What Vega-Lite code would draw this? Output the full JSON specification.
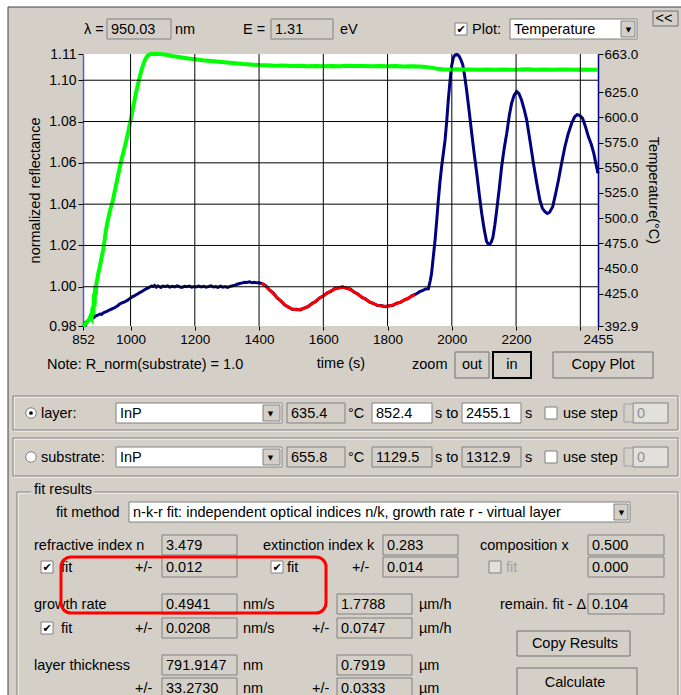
{
  "$schema": "https://vega.github.io/schema/vega-lite/v6.json",
  "width": 515,
  "height": 272,
  "autosize": {"type": "none"},
  "padding": {"left": 83, "top": 54, "right": 83, "bottom": 369},
  "background": "#d4d0c8",
  "view": {"fill": "white", "stroke": null},
  "config": {
    "axis": {"labelFont": "Liberation Sans", "titleFont": "Liberation Sans"},
    "text": {"font": "Liberation Sans"}
  },
  "datasets": {
    "grid": [
      {"id":"v1000","t":1000,"r":0.981},{"id":"v1000","t":1000,"r":1.1127},
      {"id":"v1200","t":1200,"r":0.981},{"id":"v1200","t":1200,"r":1.1127},
      {"id":"v1400","t":1400,"r":0.981},{"id":"v1400","t":1400,"r":1.1127},
      {"id":"v1600","t":1600,"r":0.981},{"id":"v1600","t":1600,"r":1.1127},
      {"id":"v1800","t":1800,"r":0.981},{"id":"v1800","t":1800,"r":1.1127},
      {"id":"v2000","t":2000,"r":0.981},{"id":"v2000","t":2000,"r":1.1127},
      {"id":"v2200","t":2200,"r":0.981},{"id":"v2200","t":2200,"r":1.1127},
      {"id":"v2400","t":2400,"r":0.981},{"id":"v2400","t":2400,"r":1.1127},
      {"id":"h1.00","t":852,"r":1.0},{"id":"h1.00","t":2455,"r":1.0},
      {"id":"h1.02","t":852,"r":1.02},{"id":"h1.02","t":2455,"r":1.02},
      {"id":"h1.04","t":852,"r":1.04},{"id":"h1.04","t":2455,"r":1.04},
      {"id":"h1.06","t":852,"r":1.06},{"id":"h1.06","t":2455,"r":1.06},
      {"id":"h1.08","t":852,"r":1.08},{"id":"h1.08","t":2455,"r":1.08},
      {"id":"h1.10","t":852,"r":1.1},{"id":"h1.10","t":2455,"r":1.1}
    ],
    "blue": [
      {"t":852,"r":0.9810},{"t":855,"r":0.9812},{"t":858,"r":0.9822},{"t":861,"r":0.9818},{"t":864,"r":0.9831},{"t":868,"r":0.9836},{"t":872,"r":0.9842},{"t":876,"r":0.9845},{"t":880,"r":0.9851},{"t":885,"r":0.9849},{"t":890,"r":0.9857},{"t":895,"r":0.9861},{"t":900,"r":0.9864},{"t":905,"r":0.9868},{"t":910,"r":0.9866},{"t":915,"r":0.9873},{"t":920,"r":0.9877},{"t":925,"r":0.9880},{"t":930,"r":0.9884},{"t":935,"r":0.9888},{"t":940,"r":0.9891},{"t":945,"r":0.9895},{"t":950,"r":0.9898},{"t":955,"r":0.9903},{"t":960,"r":0.9908},{"t":965,"r":0.9915},{"t":970,"r":0.9920},{"t":975,"r":0.9923},{"t":980,"r":0.9926},{"t":985,"r":0.9930},{"t":990,"r":0.9934},{"t":995,"r":0.9940},{"t":1000,"r":0.9946},{"t":1005,"r":0.9951},{"t":1010,"r":0.9955},{"t":1015,"r":0.9959},{"t":1020,"r":0.9964},{"t":1025,"r":0.9968},{"t":1030,"r":0.9973},{"t":1035,"r":0.9977},{"t":1040,"r":0.9982},{"t":1045,"r":0.9987},{"t":1050,"r":0.9991},{"t":1055,"r":0.9995},{"t":1060,"r":0.9999},{"t":1065,"r":1.0003},{"t":1070,"r":1.0001},{"t":1075,"r":1.0006},{"t":1080,"r":0.9998},{"t":1085,"r":1.0004},{"t":1090,"r":1.0001},{"t":1095,"r":0.9997},{"t":1100,"r":1.0003},{"t":1108,"r":1.0000},{"t":1115,"r":1.0004},{"t":1122,"r":0.9998},{"t":1130,"r":1.0002},{"t":1138,"r":0.9999},{"t":1145,"r":1.0004},{"t":1152,"r":1.0000},{"t":1160,"r":0.9997},{"t":1168,"r":1.0002},{"t":1175,"r":1.0000},{"t":1183,"r":1.0003},{"t":1190,"r":0.9998},{"t":1198,"r":1.0001},{"t":1205,"r":0.9999},{"t":1212,"r":1.0003},{"t":1220,"r":0.9999},{"t":1228,"r":1.0002},{"t":1235,"r":0.9998},{"t":1243,"r":1.0001},{"t":1250,"r":1.0004},{"t":1258,"r":0.9999},{"t":1265,"r":1.0001},{"t":1272,"r":0.9997},{"t":1280,"r":1.0003},{"t":1287,"r":0.9998},{"t":1295,"r":1.0001},{"t":1302,"r":0.9997},{"t":1310,"r":1.0002},{"t":1318,"r":1.0005},{"t":1325,"r":1.0008},{"t":1332,"r":1.0012},{"t":1340,"r":1.0016},{"t":1348,"r":1.0019},{"t":1355,"r":1.0022},{"t":1362,"r":1.0021},{"t":1370,"r":1.0024},{"t":1378,"r":1.0020},{"t":1385,"r":1.0022},{"t":1392,"r":1.0019},{"t":1400,"r":1.0019},{"t":1408,"r":1.0016},
      {"t":1420,"r":1.0006},{"t":1432,"r":0.9985},{"t":1444,"r":0.9971},{"t":1456,"r":0.9946},{"t":1468,"r":0.9932},{"t":1480,"r":0.9911},{"t":1492,"r":0.9902},{"t":1504,"r":0.9890},{"t":1516,"r":0.9891},{"t":1528,"r":0.9888},{"t":1540,"r":0.9897},{"t":1552,"r":0.9903},{"t":1564,"r":0.9919},{"t":1576,"r":0.9928},{"t":1588,"r":0.9946},{"t":1600,"r":0.9955},{"t":1612,"r":0.9971},{"t":1624,"r":0.9978},{"t":1636,"r":0.9992},{"t":1648,"r":0.9994},{"t":1660,"r":1.0000},{"t":1672,"r":0.9992},{"t":1684,"r":0.9989},{"t":1696,"r":0.9974},{"t":1708,"r":0.9965},{"t":1720,"r":0.9948},{"t":1732,"r":0.9940},{"t":1744,"r":0.9925},{"t":1756,"r":0.9920},{"t":1768,"r":0.9909},{"t":1780,"r":0.9909},{"t":1792,"r":0.9903},{"t":1804,"r":0.9908},{"t":1816,"r":0.9909},{"t":1828,"r":0.9920},{"t":1840,"r":0.9924},{"t":1852,"r":0.9937},{"t":1864,"r":0.9942},{"t":1876,"r":0.9957},{"t":1888,"r":0.9964},{"t":1900,"r":0.9976},{"t":1910,"r":0.9982},{"t":1918,"r":0.9989},{"t":1927,"r":0.9990},
      {"t":1933,"r":1.0030},{"t":1937,"r":1.0065},{"t":1942,"r":1.0140},{"t":1948,"r":1.0228},{"t":1953,"r":1.0320},{"t":1958,"r":1.0420},{"t":1963,"r":1.0505},{"t":1968,"r":1.0578},{"t":1974,"r":1.0650},{"t":1979,"r":1.0711},{"t":1984,"r":1.0800},{"t":1989,"r":1.0904},{"t":1994,"r":1.0990},{"t":1999,"r":1.1066},{"t":2005,"r":1.1110},{"t":2010,"r":1.1122},{"t":2016,"r":1.1125},{"t":2022,"r":1.1118},{"t":2028,"r":1.1100},{"t":2034,"r":1.1075},{"t":2040,"r":1.1020},{"t":2046,"r":1.0953},{"t":2054,"r":1.0850},{"t":2062,"r":1.0743},{"t":2070,"r":1.0640},{"t":2078,"r":1.0545},{"t":2086,"r":1.0440},{"t":2093,"r":1.0356},{"t":2100,"r":1.0285},{"t":2108,"r":1.0220},{"t":2113,"r":1.0208},{"t":2118,"r":1.0205},{"t":2123,"r":1.0218},{"t":2128,"r":1.0240},{"t":2134,"r":1.0300},{"t":2140,"r":1.0375},{"t":2148,"r":1.0480},{"t":2155,"r":1.0581},{"t":2163,"r":1.0670},{"t":2171,"r":1.0743},{"t":2179,"r":1.0830},{"t":2186,"r":1.0888},{"t":2194,"r":1.0928},{"t":2202,"r":1.0945},{"t":2209,"r":1.0935},{"t":2217,"r":1.0904},{"t":2225,"r":1.0860},{"t":2233,"r":1.0808},{"t":2243,"r":1.0710},{"t":2254,"r":1.0598},{"t":2264,"r":1.0505},{"t":2274,"r":1.0420},{"t":2282,"r":1.0380},{"t":2290,"r":1.0363},{"t":2297,"r":1.0355},{"t":2304,"r":1.0360},{"t":2314,"r":1.0388},{"t":2323,"r":1.0450},{"t":2332,"r":1.0517},{"t":2342,"r":1.0600},{"t":2352,"r":1.0678},{"t":2362,"r":1.0740},{"t":2373,"r":1.0792},{"t":2382,"r":1.0822},{"t":2390,"r":1.0833},{"t":2398,"r":1.0830},{"t":2407,"r":1.0816},{"t":2416,"r":1.0775},{"t":2425,"r":1.0727},{"t":2434,"r":1.0690},{"t":2442,"r":1.0646},{"t":2448,"r":1.0600},{"t":2455,"r":1.0549}
    ],
    "fit": [
      {"t":1408,"r":1.0017},{"t":1420,"r":1.0003},{"t":1432,"r":0.9986},{"t":1444,"r":0.9968},{"t":1456,"r":0.9949},{"t":1468,"r":0.9930},{"t":1480,"r":0.9913},{"t":1492,"r":0.9900},{"t":1504,"r":0.9892},{"t":1516,"r":0.9889},{"t":1528,"r":0.9890},{"t":1540,"r":0.9896},{"t":1552,"r":0.9905},{"t":1564,"r":0.9917},{"t":1576,"r":0.9930},{"t":1588,"r":0.9944},{"t":1600,"r":0.9957},{"t":1612,"r":0.9969},{"t":1624,"r":0.9980},{"t":1636,"r":0.9989},{"t":1648,"r":0.9995},{"t":1660,"r":0.9997},{"t":1672,"r":0.9994},{"t":1684,"r":0.9986},{"t":1696,"r":0.9975},{"t":1708,"r":0.9963},{"t":1720,"r":0.9950},{"t":1732,"r":0.9938},{"t":1744,"r":0.9927},{"t":1756,"r":0.9918},{"t":1768,"r":0.9911},{"t":1780,"r":0.9907},{"t":1792,"r":0.9906},{"t":1804,"r":0.9907},{"t":1816,"r":0.9912},{"t":1828,"r":0.9918},{"t":1840,"r":0.9926},{"t":1852,"r":0.9935},{"t":1864,"r":0.9945},{"t":1876,"r":0.9955},{"t":1885,"r":0.9962}
    ],
    "temperature": [
      {"t":852,"T":392.9},{"t":856,"T":393.5},{"t":860,"T":395},{"t":864,"T":397},{"t":868,"T":398},{"t":872,"T":400},{"t":876,"T":403},{"t":879,"T":401},{"t":882,"T":412},{"t":884,"T":404},{"t":886,"T":425},{"t":888,"T":412},{"t":890,"T":433},{"t":892,"T":424},{"t":894,"T":436},{"t":897,"T":440},{"t":900,"T":446},{"t":905,"T":453},{"t":910,"T":461},{"t":915,"T":469},{"t":920,"T":480},{"t":925,"T":491},{"t":930,"T":499},{"t":935,"T":506},{"t":940,"T":512},{"t":946,"T":519},{"t":951,"T":527},{"t":957,"T":536},{"t":962,"T":544},{"t":967,"T":551},{"t":972,"T":558},{"t":978,"T":566},{"t":983,"T":572},{"t":988,"T":579},{"t":993,"T":586},{"t":998,"T":594},{"t":1003,"T":602},{"t":1008,"T":610},{"t":1013,"T":618},{"t":1018,"T":626},{"t":1024,"T":634},{"t":1029,"T":641},{"t":1035,"T":648},{"t":1040,"T":653},{"t":1045,"T":657},{"t":1050,"T":660},{"t":1056,"T":662},{"t":1064,"T":663},{"t":1075,"T":663.2},{"t":1090,"T":663},{"t":1105,"T":662.4},{"t":1115,"T":662},{"t":1130,"T":661},{"t":1145,"T":660.2},{"t":1160,"T":659.5},{"t":1180,"T":658.6},{"t":1200,"T":657.8},{"t":1225,"T":656.8},{"t":1250,"T":656},{"t":1275,"T":655.2},{"t":1300,"T":654.5},{"t":1325,"T":653.7},{"t":1350,"T":653},{"t":1375,"T":652.5},{"t":1400,"T":652},{"t":1425,"T":651.8},{"t":1450,"T":651.4},{"t":1475,"T":651.6},{"t":1500,"T":651.1},{"t":1525,"T":651.4},{"t":1550,"T":650.9},{"t":1575,"T":651.2},{"t":1600,"T":650.8},{"t":1625,"T":651.2},{"t":1650,"T":650.9},{"t":1675,"T":651.3},{"t":1700,"T":651},{"t":1725,"T":651.2},{"t":1750,"T":650.8},{"t":1775,"T":651.1},{"t":1800,"T":650.9},{"t":1825,"T":651},{"t":1850,"T":650.7},{"t":1875,"T":650.9},{"t":1900,"T":650.6},{"t":1920,"T":650.2},{"t":1940,"T":649.2},{"t":1955,"T":648.4},{"t":1970,"T":647.9},{"t":1990,"T":647.6},{"t":2010,"T":647.8},{"t":2035,"T":647.5},{"t":2060,"T":647.7},{"t":2085,"T":647.4},{"t":2110,"T":647.6},{"t":2135,"T":647.3},{"t":2160,"T":647.7},{"t":2185,"T":647.4},{"t":2210,"T":647.5},{"t":2235,"T":647.8},{"t":2260,"T":647.4},{"t":2285,"T":647.6},{"t":2310,"T":647.3},{"t":2335,"T":647.5},{"t":2360,"T":647.6},{"t":2385,"T":647.3},{"t":2410,"T":647.5},{"t":2435,"T":647.4},{"t":2455,"T":647.3}
    ],
    "frameWhite": [{"c1":0,"c2":1,"r1":0,"r2":32},{"c1":0,"c2":69,"r1":0,"r2":1}],
    "frameLine": [{"c1":1,"c2":69,"r1":1,"r2":32}],
    "groups": [{"c1":2,"c2":68,"r1":9,"r2":11},{"c1":2,"c2":68,"r1":12,"r2":14},{"c1":3,"c2":68,"r1":16,"r2":32}],
    "labelBg": [{"c1":4,"c2":10,"row":15}],
    "fields": [
      {"row":5,"c1":11,"c2":16,"text":"950.03","kind":"readonly"},
      {"row":5,"c1":21,"c2":26,"text":"1.31","kind":"readonly"},
      {"row":5,"c1":47,"c2":64,"text":"Temperature","kind":"editable"},
      {"row":10,"c1":12,"c2":22,"text":"InP","kind":"editable"},
      {"row":10,"c1":23,"c2":29,"text":"635.4","kind":"readonly"},
      {"row":10,"c1":32,"c2":36,"text":"852.4","kind":"editable"},
      {"row":10,"c1":40,"c2":50,"text":"2455.1","kind":"editable"},
      {"row":10,"c1":63,"c2":67,"text":"0","kind":"disabled"},
      {"row":13,"c1":12,"c2":22,"text":"InP","kind":"editable"},
      {"row":13,"c1":23,"c2":29,"text":"655.8","kind":"readonly"},
      {"row":13,"c1":32,"c2":36,"text":"1129.5","kind":"readonly"},
      {"row":13,"c1":40,"c2":50,"text":"1312.9","kind":"readonly"},
      {"row":13,"c1":63,"c2":67,"text":"0","kind":"disabled"},
      {"row":17,"c1":13,"c2":62,"text":"n-k-r fit: independent optical indices n/k, growth rate r - virtual layer","kind":"editable"},
      {"row":18,"c1":15,"c2":18,"text":"3.479","kind":"readonly"},
      {"row":18,"c1":33,"c2":39,"text":"0.283","kind":"readonly"},
      {"row":18,"c1":57,"c2":66,"text":"0.500","kind":"readonly"},
      {"row":20,"c1":15,"c2":18,"text":"0.012","kind":"readonly"},
      {"row":20,"c1":33,"c2":39,"text":"0.014","kind":"readonly"},
      {"row":20,"c1":57,"c2":66,"text":"0.000","kind":"readonly"},
      {"row":21,"c1":15,"c2":18,"text":"0.4941","kind":"readonly"},
      {"row":21,"c1":27,"c2":34,"text":"1.7788","kind":"readonly"},
      {"row":21,"c1":57,"c2":66,"text":"0.104","kind":"readonly"},
      {"row":23,"c1":15,"c2":18,"text":"0.0208","kind":"readonly"},
      {"row":23,"c1":27,"c2":34,"text":"0.0747","kind":"readonly"},
      {"row":27,"c1":15,"c2":18,"text":"791.9147","kind":"readonly"},
      {"row":27,"c1":27,"c2":34,"text":"0.7919","kind":"readonly"},
      {"row":30,"c1":15,"c2":18,"text":"33.2730","kind":"readonly"},
      {"row":30,"c1":27,"c2":34,"text":"0.0333","kind":"readonly"}
    ],
    "arrows": [{"c1":60,"c2":64,"row":5},{"c1":20,"c2":22,"row":10},{"c1":20,"c2":22,"row":13},{"c1":59,"c2":62,"row":17}],
    "spinners": [{"c1":61,"c2":63,"row":10},{"c1":61,"c2":63,"row":13}],
    "buttons": [
      {"c1":65,"c2":68,"r1":2,"r2":4,"label":"<<","tc":66,"tr":3,"pressed":false},
      {"c1":38,"c2":43,"r1":6,"r2":8,"label":"out","tc":41,"tr":7,"pressed":false},
      {"c1":44,"c2":52,"r1":6,"r2":8,"label":"in","tc":48,"tr":7,"pressed":true},
      {"c1":54,"c2":65,"r1":6,"r2":8,"label":"Copy Plot","tc":58,"tr":7,"pressed":false},
      {"c1":49,"c2":62,"r1":24,"r2":26,"label":"Copy Results","tc":56,"tr":25,"pressed":false},
      {"c1":49,"c2":64,"r1":28,"r2":31,"label":"Calculate","tc":56,"tr":29,"pressed":false}
    ],
    "checks": [
      {"col":38,"row":5,"checked":true,"state":"enabled"},
      {"col":53,"row":10,"checked":false,"state":"enabled"},
      {"col":53,"row":13,"checked":false,"state":"enabled"},
      {"col":6,"row":20,"checked":true,"state":"enabled"},
      {"col":21,"row":20,"checked":true,"state":"enabled"},
      {"col":43,"row":20,"checked":false,"state":"disabled"},
      {"col":6,"row":23,"checked":true,"state":"enabled"}
    ],
    "radios": [{"col":4,"row":10,"selected":true},{"col":4,"row":13,"selected":false}],
    "highlight": [{"c1":9,"c2":25,"r1":19,"r2":22}],
    "labels": [
      {"row":5,"col":10,"text":"λ =","state":"enabled"},
      {"row":5,"col":17,"text":"nm","state":"enabled"},
      {"row":5,"col":19,"text":"E =","state":"enabled"},
      {"row":5,"col":28,"text":"eV","state":"enabled"},
      {"row":5,"col":41,"text":"Plot:","state":"enabled"},
      {"row":7,"col":7,"text":"Note: R_norm(substrate) = 1.0","state":"enabled"},
      {"row":7,"col":34,"text":"zoom","state":"enabled"},
      {"row":10,"col":6,"text":"layer:","state":"enabled"},
      {"row":10,"col":30,"text":"°C","state":"enabled"},
      {"row":10,"col":37,"text":"s to","state":"enabled"},
      {"row":10,"col":51,"text":"s","state":"enabled"},
      {"row":10,"col":55,"text":"use step","state":"enabled"},
      {"row":13,"col":6,"text":"substrate:","state":"enabled"},
      {"row":13,"col":30,"text":"°C","state":"enabled"},
      {"row":13,"col":37,"text":"s to","state":"enabled"},
      {"row":13,"col":51,"text":"s","state":"enabled"},
      {"row":13,"col":55,"text":"use step","state":"enabled"},
      {"row":15,"col":5,"text":"fit results","state":"enabled"},
      {"row":17,"col":8,"text":"fit method","state":"enabled"},
      {"row":18,"col":5,"text":"refractive index n","state":"enabled"},
      {"row":18,"col":20,"text":"extinction index k","state":"enabled"},
      {"row":18,"col":42,"text":"composition x","state":"enabled"},
      {"row":20,"col":9,"text":"fit","state":"enabled"},
      {"row":20,"col":14,"text":"+/-","state":"enabled"},
      {"row":20,"col":23,"text":"fit","state":"enabled"},
      {"row":20,"col":31,"text":"+/-","state":"enabled"},
      {"row":20,"col":46,"text":"fit","state":"disabled"},
      {"row":21,"col":5,"text":"growth rate","state":"enabled"},
      {"row":21,"col":19,"text":"nm/s","state":"enabled"},
      {"row":21,"col":35,"text":"µm/h","state":"enabled"},
      {"row":21,"col":45,"text":"remain. fit - Δ","state":"enabled"},
      {"row":23,"col":9,"text":"fit","state":"enabled"},
      {"row":23,"col":14,"text":"+/-","state":"enabled"},
      {"row":23,"col":19,"text":"nm/s","state":"enabled"},
      {"row":23,"col":24,"text":"+/-","state":"enabled"},
      {"row":23,"col":35,"text":"µm/h","state":"enabled"},
      {"row":27,"col":5,"text":"layer thickness","state":"enabled"},
      {"row":27,"col":19,"text":"nm","state":"enabled"},
      {"row":27,"col":35,"text":"µm","state":"enabled"},
      {"row":30,"col":14,"text":"+/-","state":"enabled"},
      {"row":30,"col":19,"text":"nm","state":"enabled"},
      {"row":30,"col":24,"text":"+/-","state":"enabled"},
      {"row":30,"col":35,"text":"µm","state":"enabled"}
    ]
  },
  "resolve": {"scale": {"x": "independent", "y": "independent"}},
  "layer": [
    {
      "data": {"name": "blue"},
      "mark": {"type": "line", "color": "#000080", "strokeWidth": 3},
      "encoding": {
        "x": {"field": "t", "type": "quantitative",
          "scale": {"domain": [852, 2455], "nice": false, "zero": false},
          "axis": {
            "orient": "bottom",
            "title": "time (s)",
            "values": [852, 1000, 1200, 1400, 1600, 1800, 2000, 2200, 2400, 2455],
            "labelExpr": "datum.value === 2400 ? '' : format(datum.value, 'd')",
            "labelFlush": false, "labelOverlap": false,
            "domain": false, "grid": false,
            "tickColor": "black", "tickSize": 4,
            "labelColor": "black", "labelFontSize": 13.5, "labelPadding": 2,
            "titleFontSize": 14.5, "titleFontWeight": "normal", "titleColor": "black", "titlePadding": 11
          }
        },
        "y": {"field": "r", "type": "quantitative",
          "scale": {"domain": [0.981, 1.1127], "nice": false, "zero": false},
          "axis": {
            "orient": "left",
            "title": "normalized reflectance",
            "values": [0.981, 1.0, 1.02, 1.04, 1.06, 1.08, 1.1, 1.1127],
            "labelExpr": "format(datum.value, '.2f')",
            "labelOverlap": false, "grid": false,
            "domainColor": "#5a5ad0", "domainWidth": 1.5,
            "tickColor": "black", "tickSize": 5, "labelPadding": 2,
            "labelColor": "black", "labelFontSize": 14,
            "titleFontSize": 14.5, "titleFontWeight": "normal", "titleColor": "black", "titlePadding": 6
          }
        }
      }
    },
    {
      "data": {"name": "fit"},
      "mark": {"type": "line", "color": "#ff0000", "strokeWidth": 3},
      "encoding": {
        "x": {"field": "t", "type": "quantitative", "scale": {"domain": [852, 2455], "nice": false, "zero": false}, "axis": null},
        "y": {"field": "r", "type": "quantitative", "scale": {"domain": [0.981, 1.1127], "nice": false, "zero": false}, "axis": null}
      }
    },
    {
      "data": {"name": "temperature"},
      "mark": {"type": "line", "color": "#00ff00", "strokeWidth": 4},
      "encoding": {
        "x": {"field": "t", "type": "quantitative", "scale": {"domain": [852, 2455], "nice": false, "zero": false}, "axis": null},
        "y": {"field": "T", "type": "quantitative",
          "scale": {"domain": [392.9, 663.0], "nice": false, "zero": false},
          "axis": {
            "orient": "right",
            "title": "Temperature(°C)",
            "values": [392.9, 425, 450, 475, 500, 525, 550, 575, 600, 625, 663],
            "format": ".1f",
            "labelOverlap": false,
            "grid": false,
            "domainColor": "#000080", "domainWidth": 1.5,
            "tickColor": "black", "tickSize": 5, "labelPadding": 1,
            "labelColor": "black", "labelFontSize": 13.5,
            "titleFontSize": 14.5, "titleFontWeight": "normal", "titleColor": "black", "titlePadding": 8
          }
        }
      }
    },
    {
      "layer": [
        {
          "data": {"name": "grid"},
          "mark": {"type": "line", "color": "black", "strokeWidth": 1},
          "encoding": {
            "x": {"field": "t", "type": "quantitative", "scale": {"domain": [852, 2455], "nice": false, "zero": false}, "axis": null},
            "y": {"field": "r", "type": "quantitative", "scale": {"domain": [0.981, 1.1127], "nice": false, "zero": false}, "axis": null},
            "detail": {"field": "id", "type": "nominal"}
          }
        }
      ]
    },
    {
      "layer": [
        {
          "data": {"name": "frameWhite"},
          "mark": {"type": "rect", "fill": "white"},
          "encoding": {
            "x": {"field": "c1", "type": "quantitative", "axis": null,
              "scale": {"nice": false, "zero": false,
                "domain": [0,1,2,3,4,5,6,7,8,9,10,11,12,13,14,15,16,17,18,19,20,21,22,23,24,25,26,27,28,29,30,31,32,33,34,35,36,37,38,39,40,41,42,43,44,45,46,47,48,49,50,51,52,53,54,55,56,57,58,59,60,61,62,63,64,65,66,67,68,69],
                "range": [-83,-75,-70,-66,-52,-49,-42,-36,-27,-22,1,24,33,46,52,79,88,92,154,160,180,188,199,204,229,243,250,254,257,262,265,269,289,300,329,336,349,352,372,375,379,389,397,406,410,417,423,427,429,434,438,442,448,462,470,480,492,505,520,531,538,541,547,550,554,570,581,585,595,598]}},
            "x2": {"field": "c2"},
            "y": {"field": "r1", "type": "quantitative", "axis": null,
              "scale": {"nice": false, "zero": false,
                "domain": [0,1,2,3,4,5,6,7,8,9,10,11,12,13,14,15,16,17,18,19,20,21,22,23,24,25,26,27,28,29,30,31,32],
                "range": [-54,-47,-43,-36,-28,-25,298,310,324,342,359,376,384,403,422,435,438,458,491,503,513,550,559,574,577,589,602,611,614,628,634,643,646]}},
            "y2": {"field": "r2"}
          }
        },
        {
          "data": {"name": "frameLine"},
          "mark": {"type": "rect", "fillOpacity": 0, "stroke": "#404040", "strokeWidth": 1, "x2Offset": 6},
          "encoding": {
            "x": {"field": "c1", "type": "quantitative", "axis": null},
            "x2": {"field": "c2"},
            "y": {"field": "r1", "type": "quantitative", "axis": null},
            "y2": {"field": "r2"}
          }
        },
        {
          "data": {"name": "groups"},
          "mark": {"type": "rect", "fillOpacity": 0, "stroke": "white", "strokeWidth": 1, "xOffset": 1, "yOffset": 1, "x2Offset": 1, "y2Offset": 1},
          "encoding": {
            "x": {"field": "c1", "type": "quantitative", "axis": null},
            "x2": {"field": "c2"},
            "y": {"field": "r1", "type": "quantitative", "axis": null},
            "y2": {"field": "r2"}
          }
        },
        {
          "data": {"name": "groups"},
          "mark": {"type": "rect", "fillOpacity": 0, "stroke": "#808080", "strokeWidth": 1},
          "encoding": {
            "x": {"field": "c1", "type": "quantitative", "axis": null},
            "x2": {"field": "c2"},
            "y": {"field": "r1", "type": "quantitative", "axis": null},
            "y2": {"field": "r2"}
          }
        },
        {
          "data": {"name": "labelBg"},
          "mark": {"type": "rect", "fill": "#d4d0c8", "x2Offset": 10, "yOffset": -7, "y2Offset": 7},
          "encoding": {
            "x": {"field": "c1", "type": "quantitative", "axis": null},
            "x2": {"field": "c2"},
            "y": {"field": "row", "type": "quantitative", "axis": null},
            "y2": {"field": "row"}
          }
        },
        {
          "data": {"name": "fields"},
          "mark": {"type": "rect", "stroke": "#808080", "strokeWidth": 1, "yOffset": -10, "y2Offset": 10},
          "encoding": {
            "x": {"field": "c1", "type": "quantitative", "axis": null},
            "x2": {"field": "c2"},
            "y": {"field": "row", "type": "quantitative", "axis": null},
            "y2": {"field": "row"},
            "fill": {"condition": [{"test": "datum.kind === 'editable'", "value": "white"}, {"test": "datum.kind === 'disabled'", "value": "#e2e0da"}], "value": "#d4d0c8"}
          }
        },
        {
          "data": {"name": "fields"},
          "mark": {"type": "text", "align": "left", "baseline": "middle", "fontSize": 14.5, "dx": 4, "dy": 1},
          "encoding": {
            "x": {"field": "c1", "type": "quantitative", "axis": null},
            "y": {"field": "row", "type": "quantitative", "axis": null},
            "text": {"field": "text"},
            "color": {"condition": {"test": "datum.kind === 'disabled'", "value": "#909090"}, "value": "black"}
          }
        },
        {
          "data": {"name": "arrows"},
          "mark": {"type": "rect", "fill": "#d4d0c8", "stroke": "#808080", "strokeWidth": 1, "x2Offset": -2, "yOffset": -8, "y2Offset": 8},
          "encoding": {
            "x": {"field": "c1", "type": "quantitative", "axis": null},
            "x2": {"field": "c2"},
            "y": {"field": "row", "type": "quantitative", "axis": null},
            "y2": {"field": "row"}
          }
        },
        {
          "data": {"name": "arrows"},
          "mark": {"type": "text", "align": "center", "baseline": "middle", "font": "DejaVu Sans", "fontSize": 7, "dx": 7.5, "dy": 1, "color": "black"},
          "encoding": {
            "x": {"field": "c1", "type": "quantitative", "axis": null},
            "y": {"field": "row", "type": "quantitative", "axis": null},
            "text": {"value": "▼"}
          }
        },
        {
          "data": {"name": "spinners"},
          "mark": {"type": "rect", "fill": "#d4d0c8", "stroke": "#a0a0a0", "strokeWidth": 1, "yOffset": -9, "y2Offset": 9},
          "encoding": {
            "x": {"field": "c1", "type": "quantitative", "axis": null},
            "x2": {"field": "c2"},
            "y": {"field": "row", "type": "quantitative", "axis": null},
            "y2": {"field": "row"}
          }
        },
        {
          "data": {"name": "buttons"},
          "mark": {"type": "rect", "fill": "#d4d0c8"},
          "encoding": {
            "x": {"field": "c1", "type": "quantitative", "axis": null},
            "x2": {"field": "c2"},
            "y": {"field": "r1", "type": "quantitative", "axis": null},
            "y2": {"field": "r2"},
            "strokeWidth": {"condition": {"test": "datum.pressed", "value": 2}, "value": 1},
            "stroke": {"condition": {"test": "datum.pressed", "value": "black"}, "value": "#707070"}
          }
        },
        {
          "data": {"name": "buttons"},
          "mark": {"type": "text", "align": "center", "baseline": "middle", "fontSize": 14.5, "dy": 1, "color": "black"},
          "encoding": {
            "x": {"field": "tc", "type": "quantitative", "axis": null},
            "y": {"field": "tr", "type": "quantitative", "axis": null},
            "text": {"field": "label"}
          }
        },
        {
          "data": {"name": "checks"},
          "mark": {"type": "rect", "stroke": "#808080", "strokeWidth": 1, "x2Offset": 12, "yOffset": -6, "y2Offset": 6},
          "encoding": {
            "x": {"field": "col", "type": "quantitative", "axis": null},
            "x2": {"field": "col"},
            "y": {"field": "row", "type": "quantitative", "axis": null},
            "y2": {"field": "row"},
            "fill": {"condition": {"test": "datum.state === 'disabled'", "value": "#e2e0da"}, "value": "white"}
          }
        },
        {
          "data": {"name": "checks"},
          "transform": [{"filter": "datum.checked"}],
          "mark": {"type": "text", "align": "center", "baseline": "middle", "font": "DejaVu Sans", "fontSize": 11, "fontWeight": "bold", "dx": 6, "dy": 1, "color": "black"},
          "encoding": {
            "x": {"field": "col", "type": "quantitative", "axis": null},
            "y": {"field": "row", "type": "quantitative", "axis": null},
            "text": {"value": "✔"}
          }
        },
        {
          "data": {"name": "radios"},
          "mark": {"type": "point", "shape": "circle", "filled": true, "fill": "white", "stroke": "#808080", "strokeWidth": 1, "size": 110, "opacity": 1},
          "encoding": {
            "x": {"field": "col", "type": "quantitative", "axis": null},
            "y": {"field": "row", "type": "quantitative", "axis": null}
          }
        },
        {
          "data": {"name": "radios"},
          "transform": [{"filter": "datum.selected"}],
          "mark": {"type": "point", "shape": "circle", "filled": true, "color": "black", "size": 14, "opacity": 1},
          "encoding": {
            "x": {"field": "col", "type": "quantitative", "axis": null},
            "y": {"field": "row", "type": "quantitative", "axis": null}
          }
        },
        {
          "data": {"name": "labels"},
          "mark": {"type": "text", "align": "left", "baseline": "middle", "fontSize": 14.5, "dy": 1},
          "encoding": {
            "x": {"field": "col", "type": "quantitative", "axis": null},
            "y": {"field": "row", "type": "quantitative", "axis": null},
            "text": {"field": "text"},
            "color": {"condition": {"test": "datum.state === 'disabled'", "value": "#a0a0a0"}, "value": "black"}
          }
        },
        {
          "data": {"name": "highlight"},
          "mark": {"type": "rect", "fillOpacity": 0, "stroke": "#ff0000", "strokeWidth": 3, "cornerRadius": 10},
          "encoding": {
            "x": {"field": "c1", "type": "quantitative", "axis": null},
            "x2": {"field": "c2"},
            "y": {"field": "r1", "type": "quantitative", "axis": null},
            "y2": {"field": "r2"}
          }
        }
      ]
    }
  ]
}
